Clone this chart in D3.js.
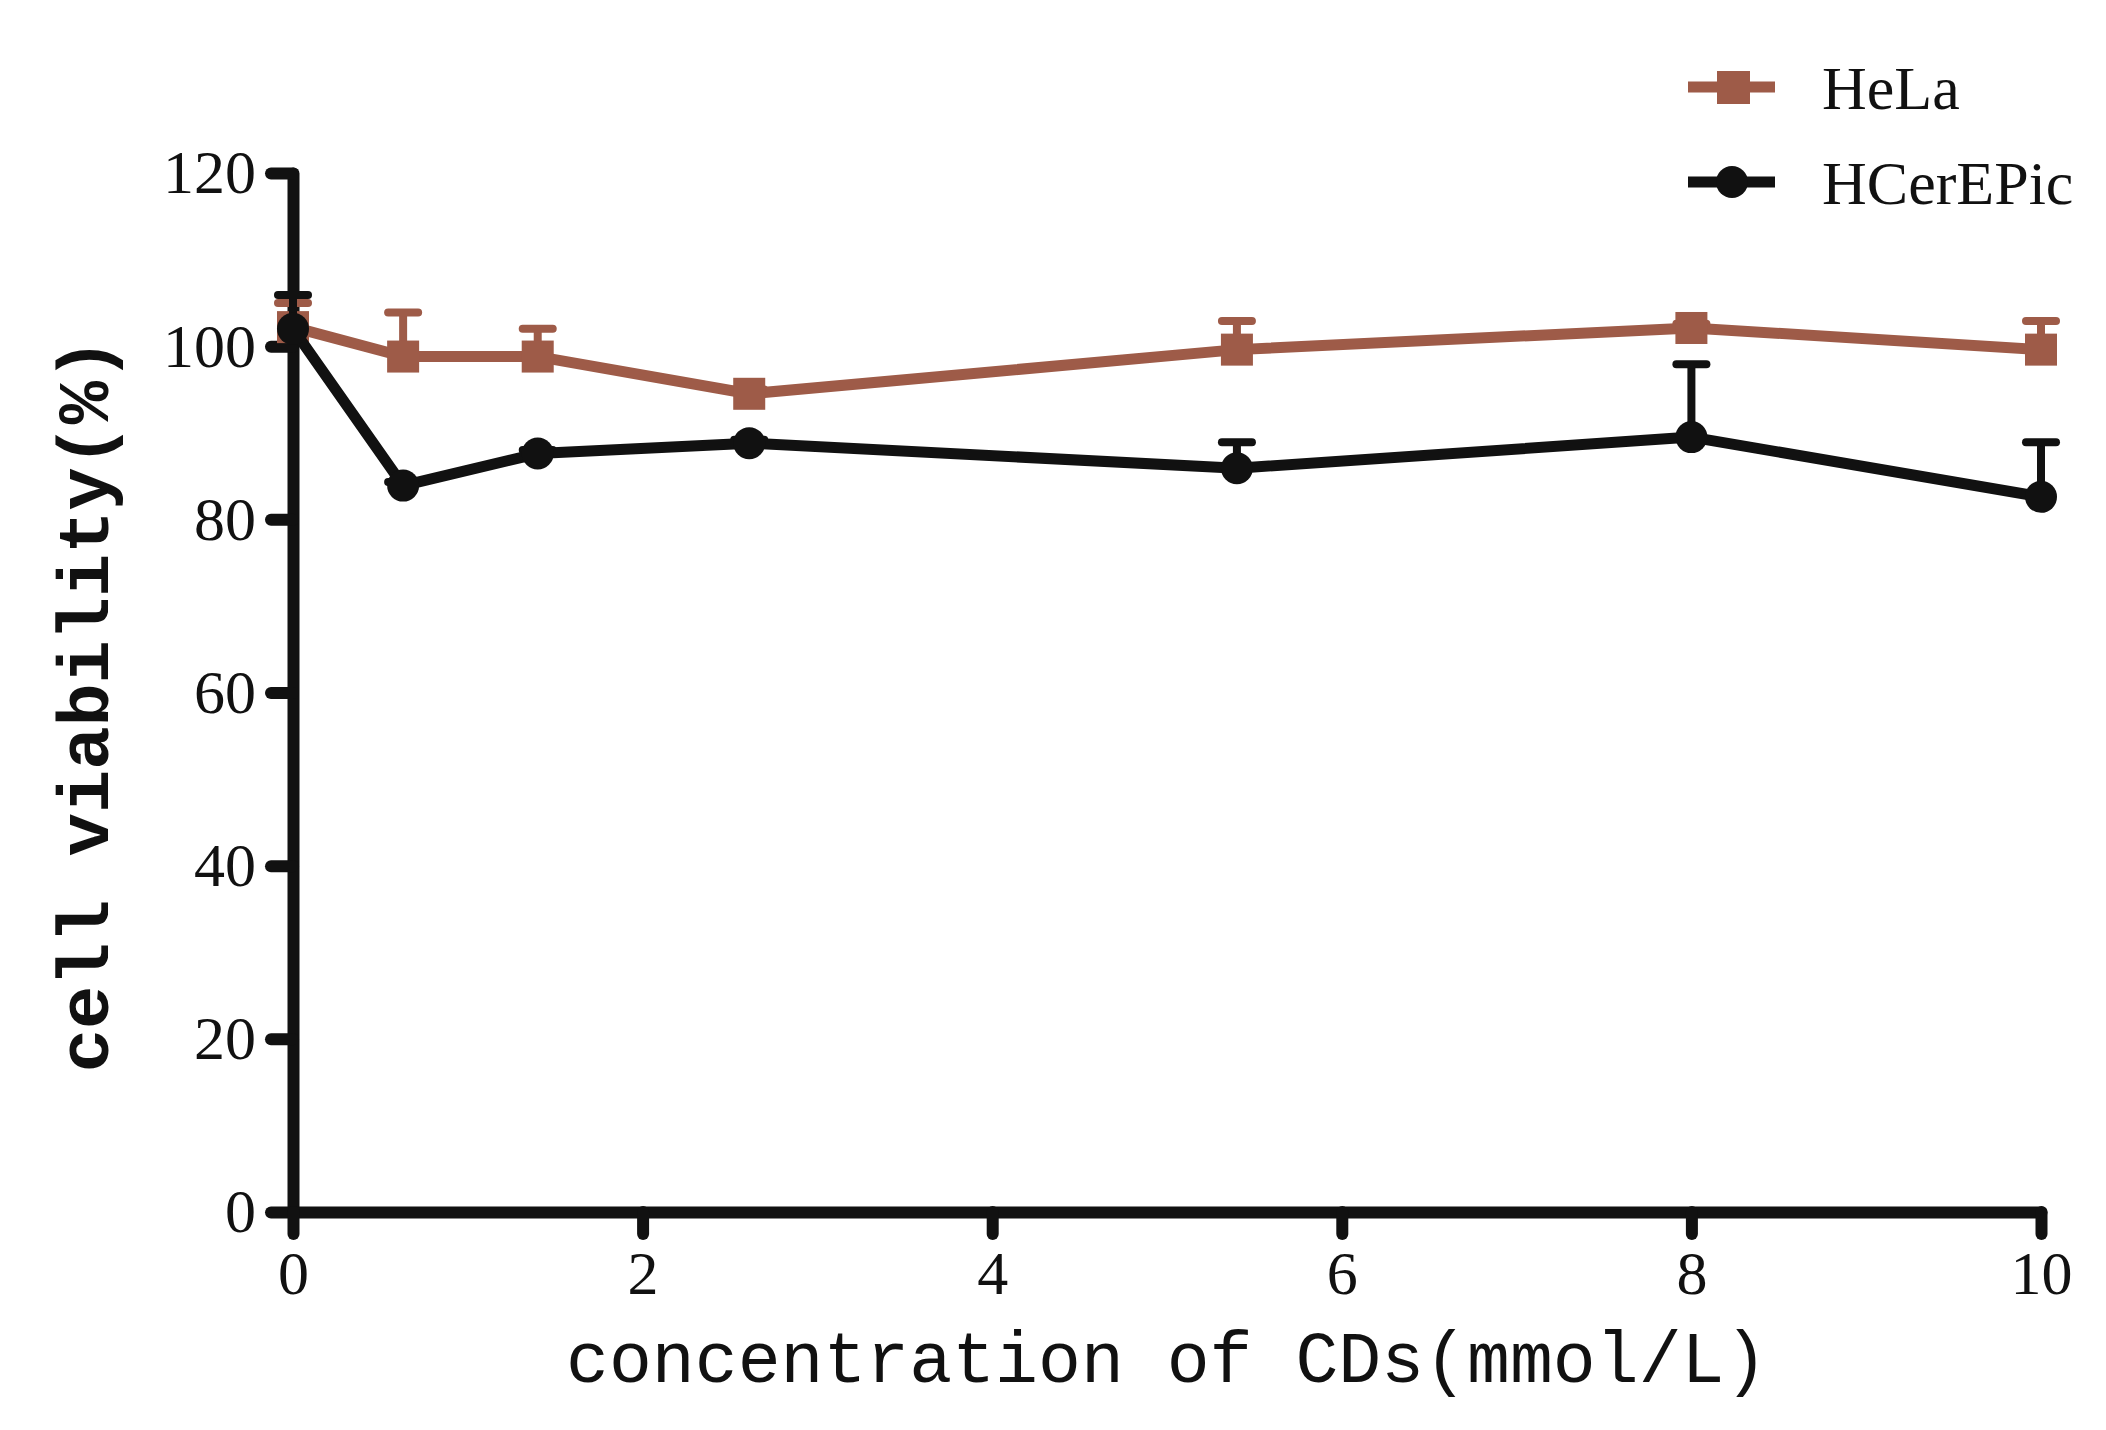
<!DOCTYPE html>
<html>
<head>
<meta charset="utf-8">
<script src="https://cdn.jsdelivr.net/npm/d3@7"></script>
<style>
  body { margin: 0; background: #fff; }
  svg { display: block; }
</style>
</head>
<body>
<svg></svg>
<script>
// values
const conc = [0, 0.63, 1.4, 2.61, 5.4, 8, 10];              // mmol/L
const helaMean = [102.2, 98.8, 98.8, 94.5, 99.6, 102.1, 99.6];
const helaErr  = [2.8, 5.1, 3.2, 0.5, 3.3, 0.5, 3.3];
const hcerMean = [102.0, 83.9, 87.6, 88.8, 85.9, 89.5, 82.6];
const hcerErr  = [3.9, 0.4, 0.4, 0.4, 3.0, 8.4, 6.3];
const xTicks = [0, 2, 4, 6, 8, 10];
const yTicks = [0, 20, 40, 60, 80, 100, 120];
const seriesNames = ["HeLa", "HCerEPic"];

var w = 2106;
var h = 1430;
const margin = { top: 173, bottom: 218, left: 293, right: 65 };
const innerWidth = w - margin.left - margin.right;
const innerHeight = h - margin.top - margin.bottom;

const brown = "#9e5b48";
const black = "#111111";

let svg = d3.select("svg")
  .attr("width", w)
  .attr("height", h);

svg.append("rect").attr("width", w).attr("height", h).attr("fill", "#fff");

const g = svg.append("g")
  .attr("transform", `translate(${margin.left}, ${margin.top})`);

let xScale = d3.scaleLinear().domain([0, 10]).range([0, innerWidth]);
let yScale = d3.scaleLinear().domain([0, 120]).range([innerHeight, 0]);

// axes
let yAxisG = g.append("g")
  .call(d3.axisLeft(yScale).tickValues(yTicks).tickSize(22).tickSizeOuter(0).tickPadding(15));
let xAxisG = g.append("g")
  .attr("transform", `translate(0,${innerHeight})`)
  .call(d3.axisBottom(xScale).tickValues(xTicks).tickSize(22).tickSizeOuter(0).tickPadding(16));

[yAxisG, xAxisG].forEach(a => {
  a.select(".domain")
    .attr("stroke", black)
    .attr("stroke-width", 12)
    .attr("stroke-linecap", "round")
    .attr("stroke-linejoin", "round");
  a.selectAll(".tick line")
    .attr("stroke", black)
    .attr("stroke-width", 12)
    .attr("stroke-linecap", "round");
  a.selectAll(".tick text")
    .attr("fill", black)
    .style("font-family", "'Liberation Serif', serif")
    .style("font-size", "62px");
});

function drawSeries(mean, err, color, marker) {
  let pts = conc.map((c, i) => ({ x: c, y: mean[i], e: err[i] }));

  // upper error bars only
  let eb = g.append("g");
  eb.selectAll("line.stem")
    .data(pts).enter().append("line")
    .attr("x1", d => xScale(d.x)).attr("x2", d => xScale(d.x))
    .attr("y1", d => yScale(d.y)).attr("y2", d => yScale(d.y + d.e))
    .attr("stroke", color).attr("stroke-width", 8);
  eb.selectAll("line.cap")
    .data(pts).enter().append("line")
    .attr("x1", d => xScale(d.x) - 15).attr("x2", d => xScale(d.x) + 15)
    .attr("y1", d => yScale(d.y + d.e)).attr("y2", d => yScale(d.y + d.e))
    .attr("stroke", color).attr("stroke-width", 8)
    .attr("stroke-linecap", "round");

  let line = d3.line().x(d => xScale(d.x)).y(d => yScale(d.y));
  g.append("path")
    .datum(pts)
    .attr("d", line)
    .attr("fill", "none")
    .attr("stroke", color)
    .attr("stroke-width", 11)
    .attr("stroke-linejoin", "round");

  if (marker == "square") {
    g.selectAll(null).data(pts).enter().append("rect")
      .attr("x", d => xScale(d.x) - 16).attr("y", d => yScale(d.y) - 16)
      .attr("width", 32).attr("height", 32)
      .attr("fill", color);
  } else {
    g.selectAll(null).data(pts).enter().append("circle")
      .attr("cx", d => xScale(d.x)).attr("cy", d => yScale(d.y))
      .attr("r", 16)
      .attr("fill", color);
  }
}

drawSeries(helaMean, helaErr, brown, "square");
drawSeries(hcerMean, hcerErr, black, "circle");

// legend
const legend = svg.append("g");
const legY = [87, 182];
[brown, black].forEach((c, i) => {
  legend.append("line")
    .attr("x1", 1688).attr("x2", 1775)
    .attr("y1", legY[i]).attr("y2", legY[i])
    .attr("stroke", c).attr("stroke-width", 11);
  if (i == 0) {
    legend.append("rect")
      .attr("x", 1717).attr("y", legY[i] - 16)
      .attr("width", 33).attr("height", 33).attr("fill", c);
  } else {
    legend.append("circle")
      .attr("cx", 1732).attr("cy", legY[i]).attr("r", 16).attr("fill", c);
  }
  legend.append("text")
    .attr("x", 1822).attr("y", legY[i] + 22)
    .text(seriesNames[i])
    .attr("fill", black)
    .style("font-family", "'Liberation Serif', serif")
    .style("font-size", "62px");
});

// axis titles
svg.append("text")
  .text("concentration of CDs(mmol/L)")
  .attr("x", 566)
  .attr("y", 1382)
  .attr("fill", black)
  .style("font-family", "'Liberation Mono', monospace")
  .style("font-size", "71.5px");

svg.append("text")
  .attr("transform", "translate(108,705)rotate(-90)")
  .attr("text-anchor", "middle")
  .text("cell viability(%)")
  .attr("fill", black)
  .style("font-family", "'Liberation Mono', monospace")
  .style("font-weight", "bold")
  .style("font-size", "72px");
</script>
</body>
</html>
